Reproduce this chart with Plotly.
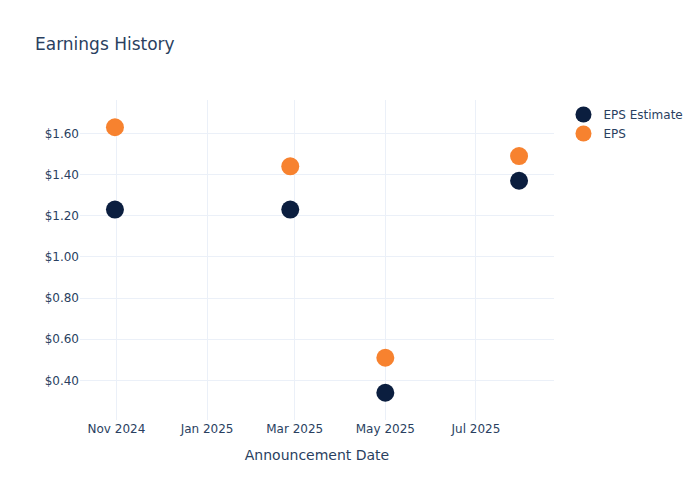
import plotly.graph_objects as go

dates = ["2024-10-31", "2025-02-26", "2025-05-01", "2025-07-30"]
eps_estimate = [1.23, 1.23, 0.34, 1.37]
eps_actual = [1.63, 1.44, 0.51, 1.49]

fig = go.Figure()
fig.add_trace(go.Scatter(x=dates, y=eps_estimate, mode="markers", name="EPS Estimate",
                         marker=dict(size=18, color="#0b1e3f")))
fig.add_trace(go.Scatter(x=dates, y=eps_actual, mode="markers", name="EPS",
                         marker=dict(size=18, color="#f7822f")))

fig.update_layout(
    template="plotly_white",
    width=700, height=500,
    title=dict(text="Earnings History"),
    font=dict(family="Verdana, DejaVu Sans, sans-serif"),
    xaxis=dict(title=dict(text="Announcement Date"), tickformat="%b %Y", dtick="M2"),
    yaxis=dict(tickprefix="$", tickformat=".2f"),
)

fig.write_html("out.html", config={"displayModeBar": False},
               post_script="document.body.style.margin='0';")
